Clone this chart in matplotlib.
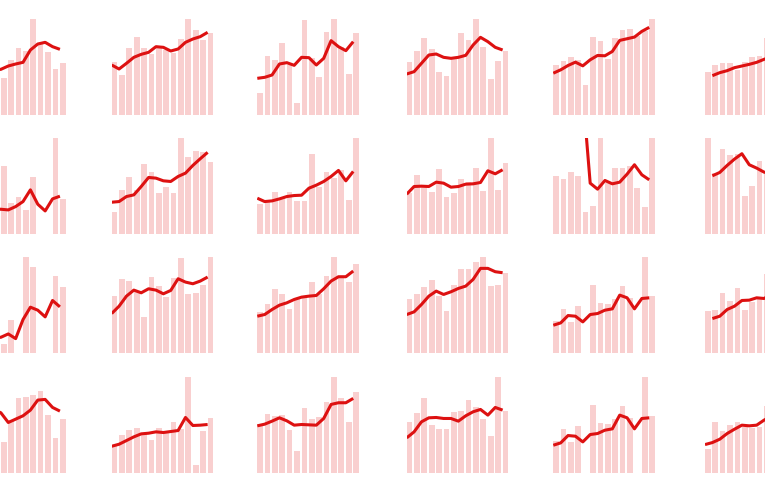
import numpy as np
import matplotlib
matplotlib.use("Agg")
import matplotlib.pyplot as plt

nan = np.nan

# small multiples: 4 rows x 6 columns, bars = yearly values, line = smoothed trend
# row 1
bars_r1c1 = [150, 120, 170, 140, 160, 112, 165, 200, 192, 288, 215, 190, 137, 156]
line_r1c1 = [120, 125, 128, 132, 135, 137, 147, 153, 158, 195, 213, 218, 205, 197]
bars_r1c2 = [158, 120, 202, 233, 200, 183, 205, 195, 185, 227, 288, 255, 225, 247]
line_r1c2 = [150, 138, 155, 173, 182, 188, 205, 203, 192, 198, 218, 228, 235, 248]
bars_r1c3 = [67, 177, 165, 217, 150, 37, 285, 172, 115, 250, 288, 205, 122, 247]
line_r1c3 = [110, 113, 120, 153, 157, 149, 173, 172, 150, 170, 223, 205, 193, 220]
bars_r1c4 = [160, 192, 232, 198, 130, 117, 170, 245, 225, 288, 205, 108, 163, 193]
line_r1c4 = [123, 130, 155, 180, 183, 173, 170, 173, 179, 210, 233, 220, 203, 195]
bars_r1c5 = [149, 160, 172, 165, 90, 233, 220, 167, 230, 255, 257, 235, 250, 287]
line_r1c5 = [125, 135, 148, 158, 147, 165, 178, 177, 190, 223, 228, 233, 250, 262]
bars_r1c6 = [130, 150, 155, 155, 135, 158, 173, 177, 230, 200, 288, 240, 260, 250]
line_r1c6 = [nan, 118, 127, 133, 142, 147, 152, 158, 167, 175, 185, 195, 205, 210]

# row 2
bars_r2c1 = [150, 120, 100, 130, 90, 204, 94, 110, 72, 170, nan, nan, 287, 105]
line_r2c1 = [60, 65, 70, 72, 74, 74, 72, 82, 97, 132, 89, 69, 105, 113]
bars_r2c2 = [65, 132, 170, 132, 210, 185, 124, 140, 124, 287, 230, 249, 244, 214]
line_r2c2 = [95, 97, 112, 117, 142, 169, 167, 159, 157, 172, 182, 205, 225, 244]
bars_r2c3 = [89, 97, 127, 109, 127, 99, 99, 240, 142, 185, 167, 190, 102, 287]
line_r2c3 = [107, 97, 99, 105, 112, 115, 116, 137, 146, 157, 172, 190, 159, 187]
bars_r2c4 = [122, 177, 142, 127, 194, 112, 122, 165, 155, 197, 129, 287, 132, 212]
line_r2c4 = [119, 142, 143, 142, 155, 152, 140, 142, 149, 150, 154, 189, 180, 192]
bars_r2c5 = [172, 164, 185, 172, 67, 84, 287, 152, 197, 197, 202, 137, 82, 287]
line_r2c5 = [nan, nan, nan, nan, 420, 152, 134, 160, 150, 155, 179, 207, 177, 162]
bars_r2c6 = [287, 182, 255, 237, 240, 115, 144, 217, 187, 200, 150, 230, 170, 210]
line_r2c6 = [nan, 174, 184, 205, 224, 240, 207, 197, 185, 180, 178, 182, 188, 190]

# row 3
bars_r3c1 = [150, 60, 110, 90, 130, 28, 98, nan, 287, 258, nan, nan, 230, 197]
line_r3c1 = [40, 42, 44, 45, 46, 47, 57, 43, 100, 137, 128, 108, 157, 138]
bars_r3c2 = [170, 220, 215, 185, 108, 227, 200, 167, 225, 285, 177, 178, 203, 287]
line_r3c2 = [118, 140, 170, 188, 180, 192, 188, 177, 187, 222, 212, 207, 215, 227]
bars_r3c3 = [123, 147, 190, 175, 133, 160, 165, 212, 175, 230, 287, 225, 213, 265]
line_r3c3 = [110, 115, 130, 143, 150, 160, 167, 170, 172, 192, 215, 228, 228, 245]
bars_r3c4 = [162, 175, 198, 217, 170, 125, 202, 252, 250, 273, 287, 200, 203, 238]
line_r3c4 = [115, 123, 145, 170, 185, 175, 183, 193, 200, 220, 253, 253, 243, 240]
bars_r3c5 = [95, 133, 92, 142, nan, 202, 150, 145, 160, 200, 165, nan, 287, 170]
line_r3c5 = [83, 90, 112, 110, 93, 115, 118, 128, 132, 173, 165, 132, 163, 165]
bars_r3c6 = [127, 130, 180, 155, 195, 130, 153, 160, 237, 170, 287, 200, 230, 210]
line_r3c6 = [nan, 103, 110, 130, 140, 157, 158, 165, 163, 175, 185, 190, 195, 200]

# row 4
bars_r4c1 = [150, 287, 200, 180, 120, 93, 158, 225, 226, 233, 245, 173, 105, 161]
line_r4c1 = [190, 200, 205, 200, 190, 180, 151, 161, 171, 188, 218, 220, 196, 185]
bars_r4c2 = [83, 113, 130, 135, 118, 98, 136, 123, 151, 133, 287, 23, 125, 163]
line_r4c2 = [80, 86, 97, 108, 117, 119, 123, 121, 124, 127, 166, 142, 143, 145]
bars_r4c3 = [143, 176, 171, 173, 128, 65, 193, 161, 166, 211, 287, 223, 151, 241]
line_r4c3 = [141, 146, 155, 165, 156, 143, 145, 144, 143, 163, 205, 210, 210, 223]
bars_r4c4 = [153, 178, 225, 143, 133, 133, 183, 185, 218, 198, 161, 111, 287, 185]
line_r4c4 = [105, 123, 153, 165, 166, 163, 163, 155, 171, 183, 190, 173, 196, 188]
bars_r4c5 = [95, 133, 92, 142, nan, 202, 150, 145, 160, 200, 165, nan, 287, 170]
line_r4c5 = [83, 90, 112, 110, 93, 115, 118, 128, 132, 173, 165, 132, 163, 165]
bars_r4c6 = [71, 153, 126, 143, 153, 138, 135, 138, 201, 180, 287, 160, 210, 200]
line_r4c6 = [85, 91, 101, 118, 131, 143, 141, 143, 158, 170, 180, 185, 188, 190]

panels = [
    [(bars_r1c1, line_r1c1), (bars_r1c2, line_r1c2), (bars_r1c3, line_r1c3),
     (bars_r1c4, line_r1c4), (bars_r1c5, line_r1c5), (bars_r1c6, line_r1c6)],
    [(bars_r2c1, line_r2c1), (bars_r2c2, line_r2c2), (bars_r2c3, line_r2c3),
     (bars_r2c4, line_r2c4), (bars_r2c5, line_r2c5), (bars_r2c6, line_r2c6)],
    [(bars_r3c1, line_r3c1), (bars_r3c2, line_r3c2), (bars_r3c3, line_r3c3),
     (bars_r3c4, line_r3c4), (bars_r3c5, line_r3c5), (bars_r3c6, line_r3c6)],
    [(bars_r4c1, line_r4c1), (bars_r4c2, line_r4c2), (bars_r4c3, line_r4c3),
     (bars_r4c4, line_r4c4), (bars_r4c5, line_r4c5), (bars_r4c6, line_r4c6)],
]

W, H = 765, 500
fig = plt.figure(figsize=(W / 100, H / 100), dpi=100)

# panel placement in pixels (grid runs past both edges of the figure)
col_left = [-36, 111.7, 257.3, 406.7, 553.3, 705]
row_bottom = [115, 234, 353, 473]
panel_w, panel_h = 101.6, 96
bar_w = 0.77

for r, row in enumerate(panels):
    for c, (bars, line) in enumerate(row):
        ax = fig.add_axes([col_left[c] / W, 1 - row_bottom[r] / H,
                           panel_w / W, panel_h / H])
        bars = np.array(bars, dtype=float)
        line = np.array(line, dtype=float)
        x = np.arange(len(bars))
        ax.bar(x, bars, width=bar_w, align='edge', color='#f9cfcf', linewidth=0)
        ax.plot(x, line, color='#dd1111', linewidth=2.2,
                solid_capstyle='butt', solid_joinstyle='round')
        ax.set_xlim(0, len(bars) - 1 + bar_w)
        ax.set_ylim(0, np.nanmax(bars))
        ax.axis('off')

fig.savefig('out.png', dpi=100)
